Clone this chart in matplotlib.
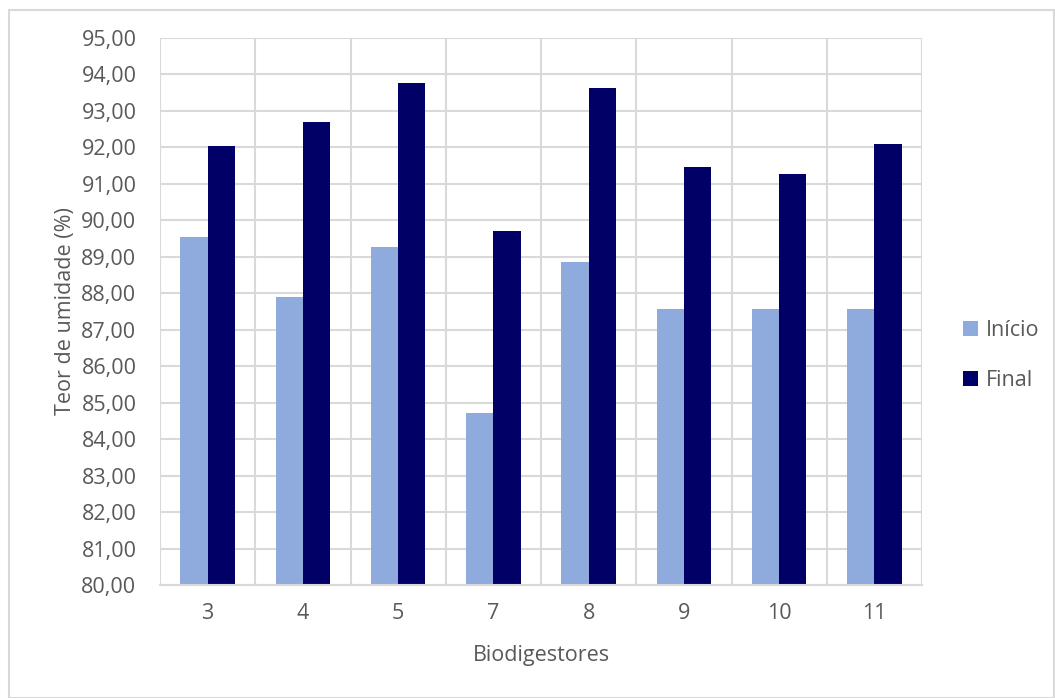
import matplotlib.pyplot as plt
import matplotlib
import numpy as np
from matplotlib.patches import Rectangle

matplotlib.rcParams["font.family"] = ["Open Sans", "DejaVu Sans"]

# Teor de umidade por biodigestor (início e final)
biodigestores = ["3", "4", "5", "7", "8", "9", "10", "11"]
inicio = [89.54, 87.90, 89.27, 84.72, 88.86, 87.58, 87.58, 87.58]
final = [92.03, 92.70, 93.76, 89.71, 93.63, 91.45, 91.28, 92.08]

cor_texto = "#595959"
cor_grade = "#D9D9D9"

fig = plt.figure(figsize=(10.55, 6.98), dpi=100)
ax = fig.add_axes([160 / 1055, 1 - 585 / 698, 762 / 1055, 547 / 698])

x = np.arange(len(biodigestores))
larg = 1 / 3.5
ax.bar(x - larg / 2, inicio, larg, color="#8FAADC", label="Início", zorder=3)
ax.bar(x + larg / 2, final, larg, color="#000066", label="Final", zorder=3)

ax.set_xlim(-0.5, len(biodigestores) - 0.5)
ax.set_ylim(80, 95)
ax.set_yticks(np.arange(80, 96, 1))
ax.set_yticklabels([f"{v:.2f}".replace(".", ",") for v in np.arange(80, 96, 1)])
ax.set_xticks(x)
ax.set_xticklabels(biodigestores)

# grade: linhas horizontais por unidade e verticais entre categorias
ax.grid(axis="y", color=cor_grade, linewidth=1.5, zorder=0)
for b in np.arange(-0.5, len(biodigestores), 1):
    ax.axvline(b, color=cor_grade, linewidth=1.5, zorder=0)

for s in ax.spines.values():
    s.set_visible(False)
ax.spines["bottom"].set_visible(True)
ax.spines["bottom"].set_color(cor_grade)
ax.spines["bottom"].set_linewidth(1.5)
ax.spines["bottom"].set_zorder(4)

ax.tick_params(axis="both", length=0, labelsize=15.5, colors=cor_texto)
ax.tick_params(axis="y", pad=17)
ax.tick_params(axis="x", pad=13)

ax.set_xlabel("Biodigestores", fontsize=15.5, color=cor_texto, labelpad=15)
ax.set_ylabel("Teor de umidade (%)", fontsize=15.5, color=cor_texto, labelpad=4)

ax.legend(loc="center left", bbox_to_anchor=(784 / 762, 0.419),
          frameon=False, fontsize=15.5, labelcolor=cor_texto,
          handlelength=0.7, handleheight=0.7, handletextpad=0.35,
          labelspacing=1.35)

# moldura da área do gráfico
fig.patches.append(Rectangle((9 / 1055, 0.5 / 698), 1045 / 1055, 688 / 698,
                             transform=fig.transFigure, fill=False,
                             edgecolor=cor_grade, linewidth=1.5))

plt.savefig("out.png", dpi=100)
